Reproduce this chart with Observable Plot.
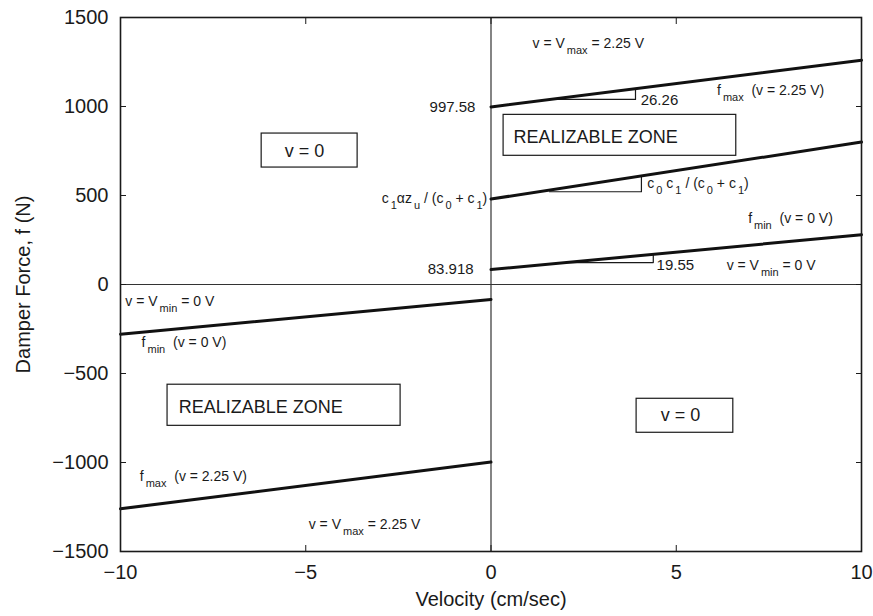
<!DOCTYPE html>
<html><head><meta charset="utf-8">
<script src="https://cdn.jsdelivr.net/npm/d3@7"></script>
<script src="https://cdn.jsdelivr.net/npm/@observablehq/plot@0.6"></script>
<style>body{margin:0;background:#fff}</style>
</head><body><div id="chart"></div>
<script>
// ---- data ----
const xTicks = [-10, -5, 0, 5, 10];
const yTicks = [-1500, -1000, -500, 0, 500, 1000, 1500];
const xTitle = "Velocity (cm/sec)";
const yTitle = "Damper Force, f (N)";

const velPos = [0, 10];
const velNeg = [-10, 0];
const fMaxPos = [997.58, 1260.2];
const fMidPos = [480, 800];
const fMinPos = [83.918, 279.4];
const fMinNeg = [-279.4, -83.918];
const fMaxNeg = [-1260.2, -997.58];

// slope triangles
const triMaxX = [1.6, 3.9, 3.9];   const triMaxY = [1039.6, 1039.6, 1100];
const triMidX = [1.58, 4.06, 4.06]; const triMidY = [521, 521, 610];
const triMinX = [2.0, 4.38, 4.38]; const triMinY = [123, 123, 169.5];

// boxed zones
const boxX1 = [-6.19, 0.34, -8.73, 3.93];
const boxX2 = [-3.6, 6.62, -2.44, 6.54];
const boxY1 = [657, 723, -794, -833];
const boxY2 = [848, 953, -563, -642];

// text annotations (start anchored)
const labText = ["v = 0", "REALIZABLE ZONE", "REALIZABLE ZONE", "v = 0",
  "v = V_{max} = 2.25 V", "f_{max}  (v = 2.25 V)", "f_{min}  (v = 0 V)", "v = V_{min} = 0 V",
  "26.26", "c_{0} c_{1} / (c_{0} + c_{1})", "19.55",
  "v = V_{min} = 0 V", "f_{min}  (v = 0 V)", "f_{max}  (v = 2.25 V)", "v = V_{max} = 2.25 V"];
const labX = [-5.57, 0.61, -8.43, 4.58, 1.12, 6.1, 6.94, 6.36, 4.04, 4.22, 4.47, -9.87, -9.43, -9.48, -4.92];
const labY = [751, 830, -691, -734, 1352, 1088, 369, 105, 1037, 567, 110, -95, -326, -1080, -1346];
const labSize = [18, 18, 18, 18, 14, 14, 14, 14, 15, 14, 15, 14, 14, 14, 14];

// value labels (end anchored)
const valText = ["997.58", "c_{1}αz_{u} / (c_{0} + c_{1})", "83.918"];
const valX = [-0.42, -0.1, -0.47];
const valY = [998, 483, 88];
const valSize = [15, 14, 15];

// ---- tables ----
const lines = [];
[["fmax+", velPos, fMaxPos], ["mid+", velPos, fMidPos], ["fmin+", velPos, fMinPos],
 ["fmin-", velNeg, fMinNeg], ["fmax-", velNeg, fMaxNeg]].forEach(([s, xs, ys]) =>
  xs.forEach((x, i) => lines.push({s, x, y: ys[i]})));
const tris = [];
[["a", triMaxX, triMaxY], ["b", triMidX, triMidY], ["c", triMinX, triMinY]].forEach(([s, xs, ys]) =>
  xs.forEach((x, i) => tris.push({s, x, y: ys[i]})));
const boxes = boxX1.map((x1, i) => ({x1, x2: boxX2[i], y1: boxY1[i], y2: boxY2[i]}));
const labs = labText.map((t, i) => ({t, x: labX[i], y: labY[i], size: labSize[i]}));
const vals = valText.map((t, i) => ({t, x: valX[i], y: valY[i], size: valSize[i]}));

const fmt = d => (d < 0 ? "\u2212" : "") + Math.abs(d);
const ink = "#1a1a1a";
const chart = Plot.plot({
  width: 873, height: 616,
  marginLeft: 120, marginRight: 12, marginTop: 17, marginBottom: 65,
  style: {fontFamily: "'Liberation Sans', Arial, sans-serif", color: ink, background: "#fff"},
  x: {domain: [-10, 10]},
  y: {domain: [-1500, 1500]},
  marks: [
    Plot.ruleX([0], {stroke: "#333", strokeWidth: 1.2}),
    Plot.ruleY([0], {stroke: "#333", strokeWidth: 1.2}),
    Plot.rect(boxes, {x1: "x1", x2: "x2", y1: "y1", y2: "y2", fill: "none", stroke: ink, strokeWidth: 1.2}),
    Plot.line(tris, {x: "x", y: "y", z: "s", stroke: ink, strokeWidth: 1.2}),
    Plot.line(lines, {x: "x", y: "y", z: "s", stroke: "#111", strokeWidth: 3}),
    Plot.text(labs, {x: "x", y: "y", text: "t", fontSize: "size", textAnchor: "start", fill: ink}),
    Plot.text(vals, {x: "x", y: "y", text: "t", fontSize: "size", textAnchor: "end", fill: ink}),
    // tick labels
    Plot.axisX({anchor: "bottom", ticks: xTicks, tickSize: 0, tickPadding: 13, fontSize: 20, tickFormat: fmt, label: null}),
    Plot.axisY({anchor: "left", ticks: yTicks, tickSize: 0, tickPadding: 12, fontSize: 20, tickFormat: fmt, label: null}),
    // axis titles
    Plot.text([xTitle], {frameAnchor: "bottom", textAnchor: "middle", dy: 54, fontSize: 20, fill: ink}),
    Plot.text([yTitle], {frameAnchor: "left", textAnchor: "middle", dx: -97, rotate: -90, fontSize: 20, fill: ink}),
    // inward ticks on all four sides
    Plot.axisX({anchor: "bottom", ticks: xTicks, tickSize: -6, tickFormat: () => "", label: null}),
    Plot.axisX({anchor: "top", ticks: xTicks, tickSize: -6, tickFormat: () => "", label: null}),
    Plot.axisY({anchor: "left", ticks: yTicks, tickSize: -6, tickFormat: () => "", label: null}),
    Plot.axisY({anchor: "right", ticks: yTicks, tickSize: -6, tickFormat: () => "", label: null}),
    Plot.frame({stroke: ink, strokeWidth: 1.6})
  ]
});

// subscripts: turn "_{..}" into lowered, smaller tspans
const NS = "http://www.w3.org/2000/svg";
chart.querySelectorAll("text").forEach(t => {
  const s = t.textContent;
  if (!s.includes("_{")) return;
  const base = parseFloat(t.getAttribute("font-size")) || 14;
  const subSize = Math.round(base * 0.78);
  const shift = Math.round(base * 0.4);
  const parts = s.split(/(_\{[^}]*\})/).filter(p => p.length);
  while (t.firstChild) t.removeChild(t.firstChild);
  let lowered = false;
  parts.forEach(p => {
    const ts = document.createElementNS(NS, "tspan");
    if (p.startsWith("_{")) {
      ts.textContent = p.slice(2, -1);
      ts.setAttribute("font-size", subSize);
      ts.setAttribute("dx", 2);
      if (!lowered) { ts.setAttribute("dy", shift); lowered = true; }
    } else {
      ts.textContent = p;
      if (lowered) { ts.setAttribute("dy", -shift); lowered = false; }
    }
    t.appendChild(ts);
  });
});
document.getElementById("chart").appendChild(chart);
</script>
</body></html>
